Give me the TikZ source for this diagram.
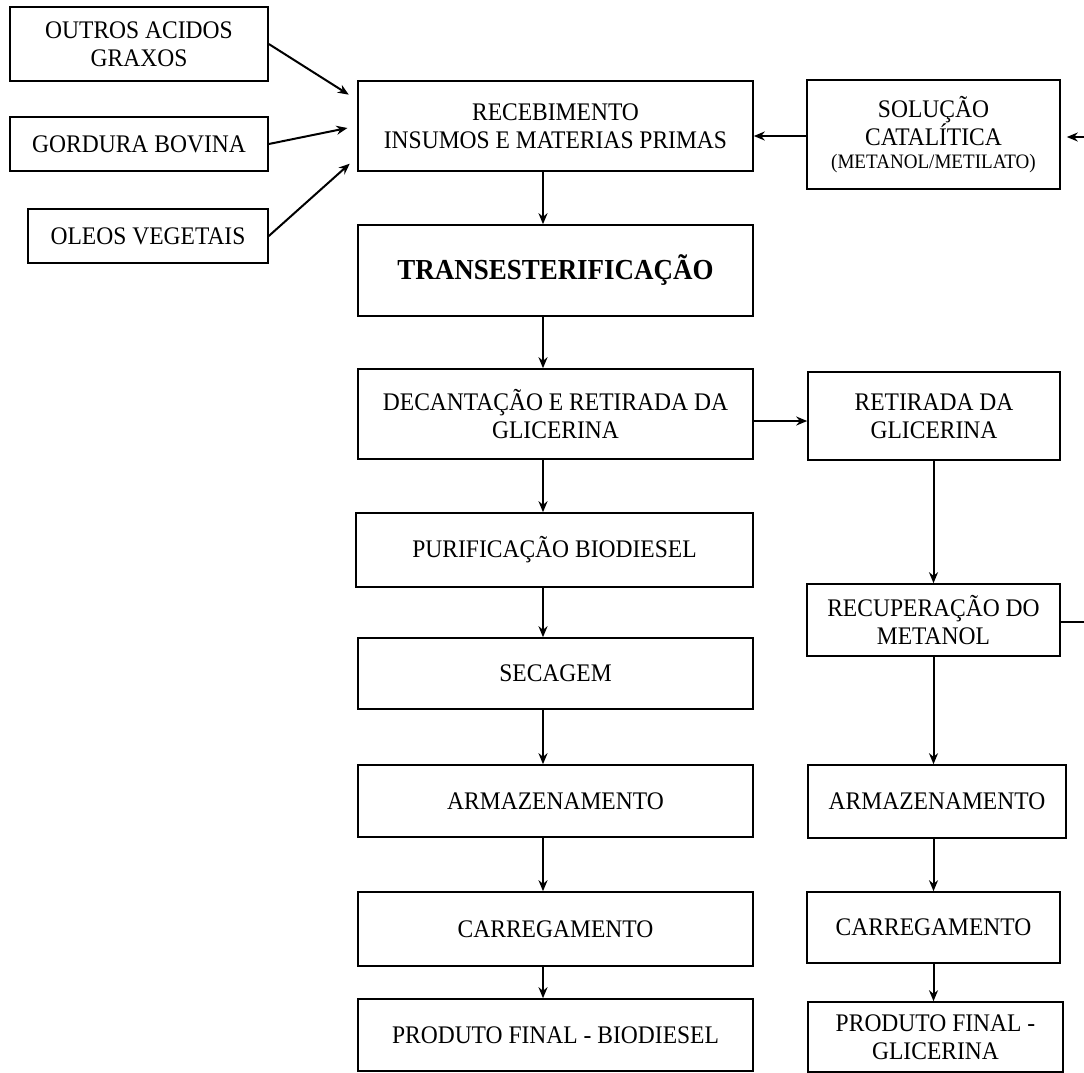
\documentclass[tikz,border=0pt]{standalone}
\usepackage{fontspec}
\setmainfont[FakeStretch=0.93]{Liberation Serif}
\usetikzlibrary{arrows.meta,shadows}
\begin{document}
\begin{tikzpicture}[x=1pt,y=-1pt,
  box/.style={draw, fill=white, line width=1.6pt, inner sep=0pt, align=center,
    font=\fontsize{25.3}{28}\selectfont,
    drop shadow={shadow xshift=1.3pt, shadow yshift=-1.3pt, opacity=1, fill=black}},
  arr/.style={line width=2pt, -{Stealth[length=11pt,width=9pt]}},
  plain/.style={line width=2pt}]
\useasboundingbox (0,0) rectangle (1084,1072);

% left inputs
\node[box, minimum width=258pt, minimum height=74pt] (outros) at (139,44) {OUTROS ACIDOS\\GRAXOS};
\node[box, minimum width=258pt, minimum height=54pt] (gordura) at (139,144) {GORDURA BOVINA};
\node[box, minimum width=240pt, minimum height=54pt] (oleos) at (148,236) {OLEOS VEGETAIS};

% main column
\node[box, minimum width=395pt, minimum height=90pt] (receb) at (555.5,126) {RECEBIMENTO\\INSUMOS E MATERIAS PRIMAS};
\node[box, minimum width=395pt, minimum height=91pt, font=\fontsize{29}{32}\selectfont\bfseries] (trans) at (555.5,270.5) {TRANSESTERIFICAÇÃO};
\node[box, minimum width=395pt, minimum height=90pt] (decant) at (555.5,414) {DECANTAÇÃO E RETIRADA DA\\GLICERINA};
\node[box, minimum width=397pt, minimum height=74pt] (purif) at (554.5,550) {PURIFICAÇÃO BIODIESEL};
\node[box, minimum width=395pt, minimum height=71pt] (secagem) at (555.5,673.5) {SECAGEM};
\node[box, minimum width=395pt, minimum height=72pt] (armL) at (555.5,801) {ARMAZENAMENTO};
\node[box, minimum width=395pt, minimum height=74pt] (carL) at (555.5,929) {CARREGAMENTO};
\node[box, minimum width=395pt, minimum height=72pt] (prodL) at (555.5,1035) {PRODUTO FINAL - BIODIESEL};

% right column
\node[box, minimum width=253pt, minimum height=109pt, font=\fontsize{25.3}{27}\selectfont] (solucao) at (933.5,134.5)
  {SOLUÇÃO\\CATALÍTICA\\[-4pt]{\fontsize{20.5}{22}\selectfont (METANOL/METILATO)}};
\node[box, minimum width=252pt, minimum height=88pt] (retirada) at (934,416) {RETIRADA DA\\GLICERINA};
\node[box, minimum width=253pt, minimum height=72pt] (recup) at (933.5,620) {RECUPERAÇÃO DO\\METANOL};
\node[box, minimum width=258pt, minimum height=73pt] (armR) at (937,801.5) {ARMAZENAMENTO};
\node[box, minimum width=253pt, minimum height=71pt] (carR) at (933.5,927.5) {CARREGAMENTO};
\node[box, minimum width=255pt, minimum height=70pt] (prodR) at (935.5,1037) {PRODUTO FINAL -\\GLICERINA};

% helper coordinates
\coordinate (colL) at (543,0);
\coordinate (colR) at (933.5,0);
\coordinate (rowTop) at (0,136);
\coordinate (rowDec) at (0,421);
\coordinate (edgeTop) at (1084,137);
\coordinate (edgeMid) at (1084,622);

% inputs into receb
\draw[arr, shorten >=10pt] (outros.east) -- (receb.west |- 0,100);
\draw[arr, shorten >=10pt] (gordura.east) -- (receb.west |- 0,126);
\draw[arr, shorten >=10pt] (oleos.east) -- (receb.west |- 0,157);

% solution
\draw[arr] (solucao.west |- rowTop) -- (receb.east |- rowTop);
\draw[arr, shorten >=6pt] (edgeTop) -- (solucao.east |- edgeTop);

% main column arrows
\draw[arr] (receb.south -| colL) -- (trans.north -| colL);
\draw[arr] (trans.south -| colL) -- (decant.north -| colL);
\draw[arr] (decant.south -| colL) -- (purif.north -| colL);
\draw[arr] (purif.south -| colL) -- (secagem.north -| colL);
\draw[arr] (secagem.south -| colL) -- (armL.north -| colL);
\draw[arr] (armL.south -| colL) -- (carL.north -| colL);
\draw[arr] (carL.south -| colL) -- (prodL.north -| colL);

% to right column
\draw[arr] (decant.east |- rowDec) -- (retirada.west |- rowDec);
\draw[arr] (retirada.south -| colR) -- (recup.north -| colR);
\draw[arr] (recup.south -| colR) -- (armR.north -| colR);
\draw[arr] (armR.south -| colR) -- (carR.north -| colR);
\draw[arr] (carR.south -| colR) -- (prodR.north -| colR);
\draw[plain] (recup.east |- edgeMid) -- (edgeMid);
\end{tikzpicture}
\end{document}
